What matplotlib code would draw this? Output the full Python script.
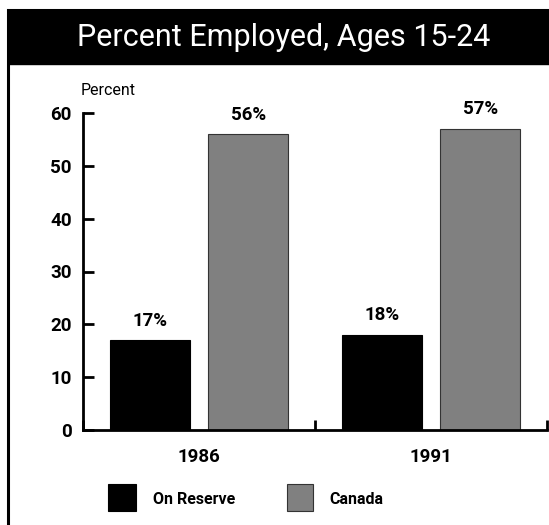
import matplotlib
matplotlib.use("Agg")
import matplotlib.pyplot as plt
from matplotlib.patches import Rectangle
import numpy as np

title = "Percent Employed, Ages 15-24"
years = ["1986", "1991"]
series_names = ["On Reserve", "Canada"]
on_reserve = [17, 18]
canada = [56, 57]
yticks = [0, 10, 20, 30, 40, 50, 60]

FONT = ['Roboto', 'DejaVu Sans']
plt.rcParams['font.family'] = FONT

W, H = 549, 525
fig = plt.figure(figsize=(W / 100, H / 100), dpi=100)

def fx(x): return x / W
def fy(y): return 1 - y / H

fig.patches.append(Rectangle((fx(8), fy(560)), fx(600), fy(10) - fy(560),
                             transform=fig.transFigure, fill=False,
                             edgecolor='black', linewidth=2.2, zorder=0))
fig.patches.append(Rectangle((fx(8), fy(64)), fx(600), fy(10) - fy(64),
                             transform=fig.transFigure, facecolor='black',
                             edgecolor='black', linewidth=1, zorder=1))
fig.text(fx(284), fy(37), title, color='white', ha='center', va='center',
         fontsize=22, family=FONT, fontweight='normal')

ax = fig.add_axes([fx(83), fy(430), fx(547) - fx(83), fy(113) - fy(430)])

x = np.arange(len(years)) + 0.5
off = 0.212
bw = 0.345
ax.bar(x - off, on_reserve, width=bw, color='black', edgecolor='black', linewidth=0.8)
ax.bar(x + off, canada, width=bw, color='#808080', edgecolor='#333333', linewidth=0.8)

for xi, v in zip(x - off, on_reserve):
    ax.text(xi, v + 2.0, f"{v}%", ha='center', va='bottom', fontsize=13.5, fontweight='bold')
for xi, v in zip(x + off, canada):
    ax.text(xi, v + 2.0, f"{v}%", ha='center', va='bottom', fontsize=13.5, fontweight='bold')

ax.set_xlim(0, 2)
ax.set_ylim(0, 60)
ax.set_yticks(yticks)
ax.set_yticklabels([str(t) for t in yticks], fontsize=13.5, fontweight='bold')
ax.tick_params(axis='y', direction='in', length=8, width=2, pad=8)

ax.set_xticks([0, 1, 2])
ax.set_xticklabels(["", "", ""])
ax.tick_params(axis='x', direction='in', length=7, width=2)
ax.set_xticks(x, minor=True)
ax.set_xticklabels(years, minor=True, fontsize=13.5, fontweight='bold')
ax.tick_params(axis='x', which='minor', length=0, pad=13)

for s in ['top', 'right']:
    ax.spines[s].set_visible(False)
for s in ['left', 'bottom']:
    ax.spines[s].set_linewidth(2)
ax.spines['left'].set_bounds(0, 60)

fig.text(fx(81), fy(90), "Percent", ha='left', va='center', fontsize=11.5)

fig.patches.append(Rectangle((fx(108), fy(511)), fx(28), fy(484) - fy(511),
                             transform=fig.transFigure, facecolor='black',
                             edgecolor='black', linewidth=0.8))
fig.text(fx(153), fy(500), series_names[0], ha='left', va='center', fontsize=11.5, fontweight='bold')
fig.patches.append(Rectangle((fx(287), fy(511)), fx(26), fy(484) - fy(511),
                             transform=fig.transFigure, facecolor='#808080',
                             edgecolor='#333333', linewidth=0.8))
fig.text(fx(329), fy(500), series_names[1], ha='left', va='center', fontsize=11.5, fontweight='bold')

fig.savefig("out.png", dpi=100)
